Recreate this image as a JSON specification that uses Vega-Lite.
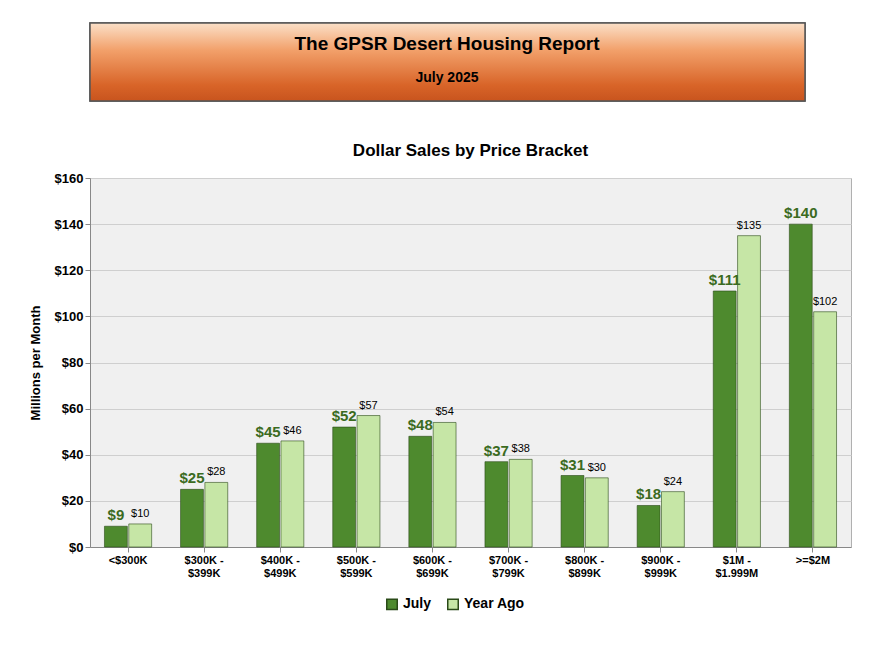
{
  "$schema": "https://vega.github.io/schema/vega-lite/v6.json",
  "background": "white",
  "padding": {"left": 21, "top": 22, "right": 5, "bottom": 5},
  "config": {"font": "Liberation Sans", "view": {"stroke": null}},
  "spacing": 39,
  "vconcat": [
    {
      "width": 715,
      "height": 78,
      "data": {"values": [
        {"line": "The GPSR Desert Housing Report", "row": 1, "pos": 0.27},
        {"line": "July 2025", "row": 2, "pos": 0.71}
      ]},
      "layer": [
        {
          "mark": {"type": "rect", "stroke": "#555555", "strokeWidth": 1.5,
            "color": {"gradient": "linear", "x1": 0, "y1": 0, "x2": 0, "y2": 1,
              "stops": [{"offset": 0, "color": "#fbe0c8"}, {"offset": 0.35, "color": "#f2a06a"}, {"offset": 0.8, "color": "#d86428"}, {"offset": 1, "color": "#c8541e"}]}},
          "encoding": {}
        },
        {
          "mark": {"type": "text", "color": "black", "fontWeight": "bold", "baseline": "middle"},
          "encoding": {
            "text": {"field": "line"},
            "x": {"value": 357},
            "y": {"field": "pos", "type": "quantitative", "scale": {"domain": [0, 1], "reverse": true}, "axis": {"title": " ", "labels": false, "ticks": false, "domain": false, "grid": false, "minExtent": 58, "titlePadding": 0}},
            "size": {"field": "row", "type": "ordinal", "legend": null, "scale": {"range": [19, 14]}}
          }
        }
      ]
    },
    {
      "width": 761,
      "height": 369,
      "title": {"text": "Dollar Sales by Price Bracket", "fontSize": 17, "fontWeight": "bold", "offset": 12, "anchor": "middle"},
      "view": {"fill": "#f0f0f0", "stroke": "#b0b0b0"},
      "data": {"values": [
        {"bracket": "<$300K", "series": "July", "value": 9},
        {"bracket": "<$300K", "series": "Year Ago", "value": 10},
        {"bracket": "$300K - $399K", "series": "July", "value": 25},
        {"bracket": "$300K - $399K", "series": "Year Ago", "value": 28},
        {"bracket": "$400K - $499K", "series": "July", "value": 45},
        {"bracket": "$400K - $499K", "series": "Year Ago", "value": 46},
        {"bracket": "$500K - $599K", "series": "July", "value": 52},
        {"bracket": "$500K - $599K", "series": "Year Ago", "value": 57},
        {"bracket": "$600K - $699K", "series": "July", "value": 48},
        {"bracket": "$600K - $699K", "series": "Year Ago", "value": 54},
        {"bracket": "$700K - $799K", "series": "July", "value": 37},
        {"bracket": "$700K - $799K", "series": "Year Ago", "value": 38},
        {"bracket": "$800K - $899K", "series": "July", "value": 31},
        {"bracket": "$800K - $899K", "series": "Year Ago", "value": 30},
        {"bracket": "$900K - $999K", "series": "July", "value": 18},
        {"bracket": "$900K - $999K", "series": "Year Ago", "value": 24},
        {"bracket": "$1M - $1.999M", "series": "July", "value": 111},
        {"bracket": "$1M - $1.999M", "series": "Year Ago", "value": 135},
        {"bracket": ">=$2M", "series": "July", "value": 140},
        {"bracket": ">=$2M", "series": "Year Ago", "value": 102}
      ]},
      "encoding": {
        "x": {"field": "bracket", "type": "nominal", "sort": null, "title": null,
          "scale": {"paddingInner": 0.38, "paddingOuter": 0.19},
          "axis": {"labelAngle": 0, "labelFontWeight": "bold", "labelFontSize": 11, "labelColor": "black", "ticks": true, "tickColor": "#888", "domainColor": "#888",
            "labelExpr": "split(datum.label, ' - ').length > 1 ? [split(datum.label, ' - ')[0] + ' -', split(datum.label, ' - ')[1]] : datum.label"}},
        "xOffset": {"field": "series", "type": "nominal", "scale": {"paddingInner": 0.06}},
        "y": {"field": "value", "type": "quantitative", "scale": {"domain": [0, 160]},
          "title": "Millions per Month",
          "axis": {"tickCount": 8, "format": "$,d", "labelFontWeight": "bold", "labelFontSize": 13, "labelColor": "black", "titleFontSize": 13, "titleColor": "black", "gridColor": "#cfcfcf", "domainColor": "#888", "tickColor": "#888", "minExtent": 40, "titlePadding": 8}}
      },
      "layer": [
        {
          "mark": {"type": "bar", "stroke": "#2a4a18", "strokeWidth": 0.6},
          "encoding": {
            "color": {"field": "series", "type": "nominal", "scale": {"domain": ["July", "Year Ago"], "range": ["#4e8a2e", "#c6e6a6"]},
              "legend": {"orient": "none", "legendX": 295, "legendY": 574, "direction": "horizontal", "title": null, "symbolType": "square", "labelFontSize": 14, "labelFontWeight": "bold", "labelColor": "black", "symbolSize": 110, "columnPadding": 12}}
          }
        },
        {
          "transform": [{"filter": "datum.series == 'July'"}],
          "mark": {"type": "text", "dy": -11, "fontSize": 15, "fontWeight": "bold", "color": "#3b6b1f"},
          "encoding": {"text": {"field": "value", "type": "quantitative", "format": "$d"}}
        },
        {
          "transform": [{"filter": "datum.series == 'Year Ago'"}],
          "mark": {"type": "text", "dy": -10, "fontSize": 11, "color": "black"},
          "encoding": {"text": {"field": "value", "type": "quantitative", "format": "$d"}}
        }
      ]
    }
  ]
}
